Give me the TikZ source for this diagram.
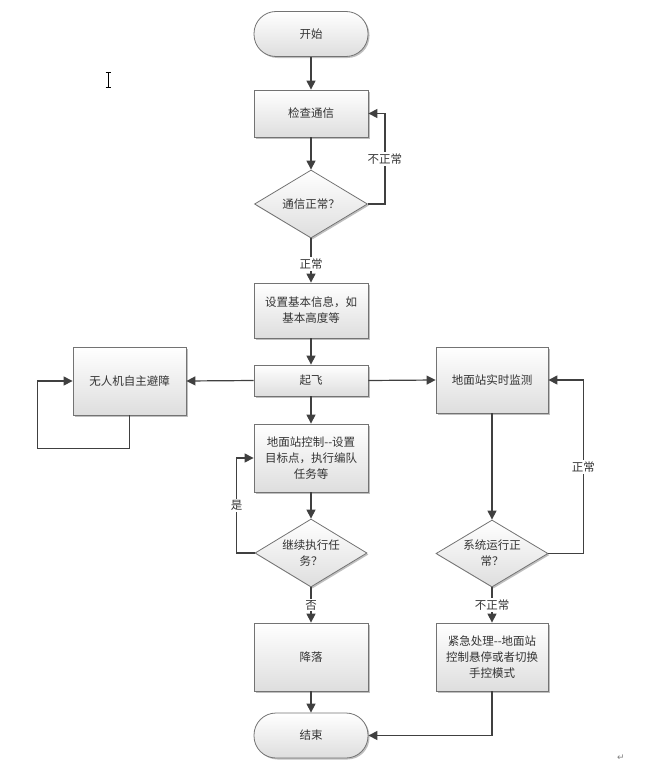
\documentclass[tikz,border=0pt]{standalone}
\usepackage{fontspec}
\newfontfamily\cjk{Noto Sans CJK SC}
\newfontfamily\dvs{DejaVu Sans}
\usetikzlibrary{arrows.meta,shapes.geometric,shadows}
\begin{document}
\begin{tikzpicture}[x=1pt,y=-1pt,
  txt/.style={font=\cjk\fontsize{11.5}{16}\selectfont, text=black!80},
  base/.style={txt, draw=black!55, line width=0.8pt, top color=white, bottom color=black!13,
     drop shadow={shadow xshift=1.5pt,shadow yshift=-1.5pt,opacity=0.25,fill=black},
     inner sep=2pt, align=center},
  procbox/.style={base, rectangle, minimum width=114pt, minimum height=#1, text width=108pt},
  termbox/.style={base, rectangle, rounded corners=22pt, minimum width=114pt, minimum height=45pt},
  decbox/.style={base, diamond, minimum width=113pt, minimum height=68pt, inner sep=0pt, aspect=1.6},
  conn/.style={draw=black!75, line width=1.2pt, -{Triangle[length=9pt,width=9pt]}},
  lbl/.style={txt, fill=white, inner sep=1.5pt}
]
\useasboundingbox (0,0) rectangle (658,771);

\node[termbox] (start) at (311,34) {开始};
\node[procbox=47pt] (check) at (311,113.5) {检查通信};
\node[decbox] (d1) at (311,204) {通信正常？};
\node[procbox=55pt] (setinfo) at (311,310.5) {设置基本信息，如\\基本高度等};
\node[procbox=31pt] (takeoff) at (311,380.5) {起飞};
\node[procbox=68pt, minimum width=113pt, text width=108pt] (avoid) at (129.5,381) {无人机自主避障};
\node[procbox=66pt, minimum width=112pt, text width=108pt] (monitor) at (492,380) {地面站实时监测};
\node[procbox=68pt] (gctrl) at (311,458) {地面站控制--设置\\目标点，执行编队\\任务等};
\node[decbox, minimum width=112pt] (d2) at (311,553) {继续执行任\\务？};
\node[procbox=68pt] (land) at (311,657) {降落};
\node[termbox] (end) at (311,735.5) {结束};
\node[decbox, minimum width=112pt, minimum height=67pt] (d3) at (492,553.5) {系统运行正\\常？};
\node[procbox=68pt, minimum width=112pt, text width=108pt] (emerg) at (492,657) {紧急处理--地面站\\控制悬停或者切换\\手控模式};

\draw[conn] (start) -- (check);
\draw[conn] (check) -- (d1);
\draw[conn] (d1.east) -- ++(17,0) |- (check.east) node[lbl, pos=0.25] {不正常};
\draw[conn] (d1) -- (setinfo) node[lbl, pos=0.58] {正常};
\draw[conn] (setinfo) -- (takeoff);
\draw[conn] (takeoff.west) -- (avoid.east);
\draw[conn] (takeoff.east) -- (monitor.west);
\draw[conn] (takeoff) -- (gctrl);
\draw[conn] (avoid.south) -- ++(0,33) -| ([xshift=-35pt]avoid.west) -- (avoid.west);
\draw[conn] (gctrl) -- (d2);
\draw[conn] (d2.west) -- ++(-18,0) |- (gctrl.west) node[lbl, pos=0.25] {是};
\draw[conn] (d2) -- (land) node[lbl, pos=0.5] {否};
\draw[conn] (land) -- (end);
\draw[conn] (monitor) -- (d3);
\draw[conn] (d3.east) -- ++(35,0) |- (monitor.east) node[lbl, pos=0.25] {正常};
\draw[conn] (d3) -- (emerg) node[lbl, pos=0.5] {不正常};
\draw[conn] (emerg.south) |- (end.east);

% text cursor and paragraph mark
\draw[line width=0.8pt] (108,72) -- (108,87) (105.5,72) -- (110.5,72) (105.5,87) -- (110.5,87);
\node[font=\dvs\fontsize{9}{9}\selectfont, text=black!50] (ret) at (621,758) {↵};
\end{tikzpicture}
\end{document}
